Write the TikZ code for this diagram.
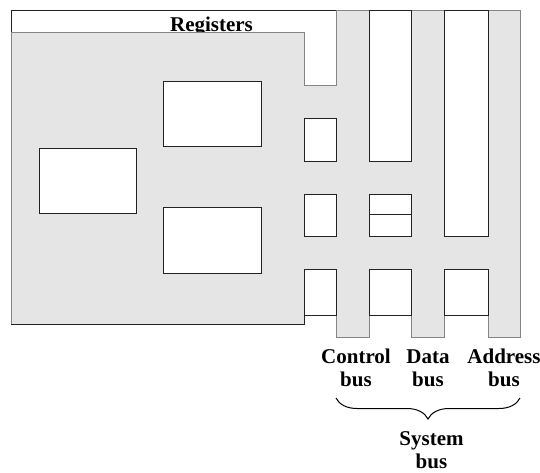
\documentclass[tikz,border=0pt]{standalone}
\usepackage{fontspec}
\setmainfont{Liberation Serif}
\usetikzlibrary{decorations.pathreplacing}
\definecolor{busgray}{HTML}{E5E5E5}
\definecolor{edgegray}{HTML}{858585}
\definecolor{boxline}{HTML}{222222}
\begin{document}
\begin{tikzpicture}[x=1pt,y=-1pt,
  lbl/.style={font=\fontsize{21}{22.5}\selectfont\bfseries, inner sep=0pt, align=center},
  graybg/.style={fill=busgray, draw=edgegray, line width=0.8pt},
  wbox/.style={fill=white, draw=boxline, line width=1pt},
  darkedge/.style={draw=boxline, line width=1pt},
  bracestyle/.style={decorate, decoration={brace, amplitude=21pt, mirror}, line width=1pt}]
\useasboundingbox (0,0) rectangle (540,472);
% register area (white, top)
\draw[wbox] (11,32) -- (11,10) -- (336,10) -- (336,85) -- (304,85) -- (304,32) -- cycle;
\node[lbl, anchor=base] (reg) at (211.5,31) {Registers};
% gray CPU + bus background
\draw[graybg] (11,32) -- (304,32) -- (304,85) -- (336,85) -- (336,10) -- (520,10)
  -- (520,337) -- (488,337) -- (488,315) -- (444,315) -- (444,337) -- (411,337)
  -- (411,315) -- (369,315) -- (369,337) -- (336,337) -- (336,315) -- (304,315)
  -- (304,324) -- (11,324) -- cycle;
\draw[darkedge] (11,324) -- (304,324) -- (304,315);
% CPU internal boxes
\draw[wbox] (39,148) rectangle (136,213);
\draw[wbox] (163,81) rectangle (261,146);
\draw[wbox] (163,207) rectangle (261,273);
% control column
\draw[wbox] (304,118) rectangle (336,161);
\draw[wbox] (304,194) rectangle (336,236);
\draw[wbox] (304,269) rectangle (336,315);
% data column
\draw[wbox] (369,10) rectangle (411,161);
\draw[wbox] (369,194) rectangle (411,236);
\draw[darkedge] (369,214) -- (411,214);
\draw[wbox] (369,269) rectangle (411,315);
% address column
\draw[wbox] (444,10) rectangle (488,236);
\draw[wbox] (444,269) rectangle (488,315);
% labels
\node[lbl, anchor=base] (cb) at (356,386) {Control\\bus};
\node[lbl, anchor=base] (db) at (428,386) {Data\\bus};
\node[lbl, anchor=base] (ab) at (504,386) {Address\\bus};
\coordinate (bl) at (336,398);
\coordinate (br) at (520,398);
\draw[bracestyle] (bl) -- (br);
\node[lbl, anchor=base] (sb) at (431.5,468) {System\\bus};
\end{tikzpicture}
\end{document}
